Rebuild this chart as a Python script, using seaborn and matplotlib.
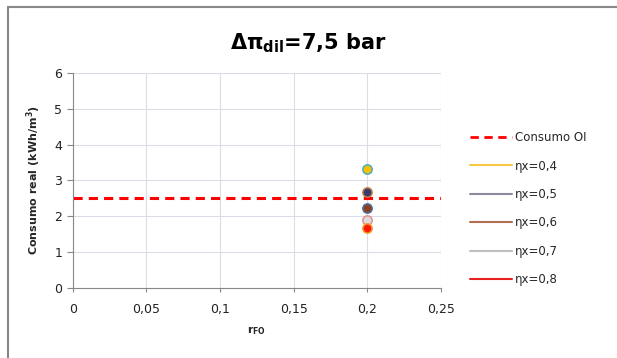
import matplotlib
matplotlib.use('Agg')
import matplotlib.pyplot as plt
import seaborn as sns
import pandas as pd
from matplotlib.lines import Line2D

# data
series = ['ηx=0,4', 'ηx=0,5', 'ηx=0,6', 'ηx=0,7', 'ηx=0,8']
r_fo = [0.2, 0.2, 0.2, 0.2, 0.2]
consumo = [3.33, 2.67, 2.22, 1.90, 1.67]
consumo_oi = 2.5
x_ticks = [0, 0.05, 0.1, 0.15, 0.2, 0.25]
x_labels = ['0', '0,05', '0,1', '0,15', '0,2', '0,25']
y_ticks = [0, 1, 2, 3, 4, 5, 6]

fill_colors = ['#F5C000', '#3A3A6A', '#8A4020', '#DCDCDC', '#FF1A0A']
edge_colors = ['#4BACC6', '#C0804A', '#5070A0', '#E09090', '#F0A030']
legend_colors = ['#F5C842', '#8A8AA0', '#B07050', '#C0C0C0', '#E82020']

df = pd.DataFrame({'serie': series, 'r_fo': r_fo, 'consumo': consumo})

sns.set_style('white')
plt.rcParams['font.family'] = ['DejaVu Sans']

fig = plt.figure(figsize=(6.17, 3.58), dpi=100)
ax = fig.add_axes([0.118, 0.196, 0.597, 0.6])

ax.axhline(consumo_oi, color='#FF0000', linestyle=(0, (3, 2)), linewidth=2.2, zorder=2)

for i, row in df.iterrows():
    sns.scatterplot(data=df.iloc[[i]], x='r_fo', y='consumo', ax=ax, s=45,
                    color=fill_colors[i], edgecolor=edge_colors[i], linewidth=1.1,
                    zorder=3, legend=False)

ax.set_xlim(0, 0.25)
ax.set_ylim(0, 6)
ax.set_xticks(x_ticks)
ax.set_xticklabels(x_labels)
ax.set_yticks(y_ticks)
ax.grid(True, color='#DCDCE6', linewidth=0.8)
ax.set_axisbelow(True)
for s in ['top', 'right']:
    ax.spines[s].set_visible(False)
ax.spines['left'].set_color('#888888')
ax.spines['bottom'].set_color('#888888')
ax.tick_params(axis='both', labelsize=9, colors='#222222', length=4, direction='out',
               left=True, bottom=True, color='#888888')
ax.tick_params(axis='x', length=3, pad=8)

ax.set_xlabel(r'r$_{\mathregular{FO}}$', fontsize=8, fontweight='bold', labelpad=6)
ax.set_ylabel(r'Consumo real (kWh/m$^{\mathregular{3}}$)', fontsize=8, fontweight='bold', labelpad=8)

fig.text(0.5, 0.88, r'$\mathbf{\Delta\pi_{dil}}$=7,5 bar', fontsize=15, fontweight='bold',
         ha='center', va='center', color='black')

handles = [Line2D([0], [0], color='#FF0000', linestyle=(0, (3, 2)), linewidth=2)]
handles += [Line2D([0], [0], color=c, linewidth=1.5) for c in legend_colors]
labels = ['Consumo OI'] + series
fig.legend(handles, labels, loc='upper left', bbox_to_anchor=(0.745, 0.663),
           frameon=False, fontsize=8.5, handlelength=3.5, labelspacing=1.3,
           handletextpad=0.3)

# chart frame (top and left edges visible)
fig.add_artist(Line2D([0.013, 1.0], [0.98, 0.98], transform=fig.transFigure,
                      color='#888888', linewidth=1.5))
fig.add_artist(Line2D([0.013, 0.013], [0.0, 0.98], transform=fig.transFigure,
                      color='#888888', linewidth=1.5))

fig.savefig('out.png', dpi=100)
